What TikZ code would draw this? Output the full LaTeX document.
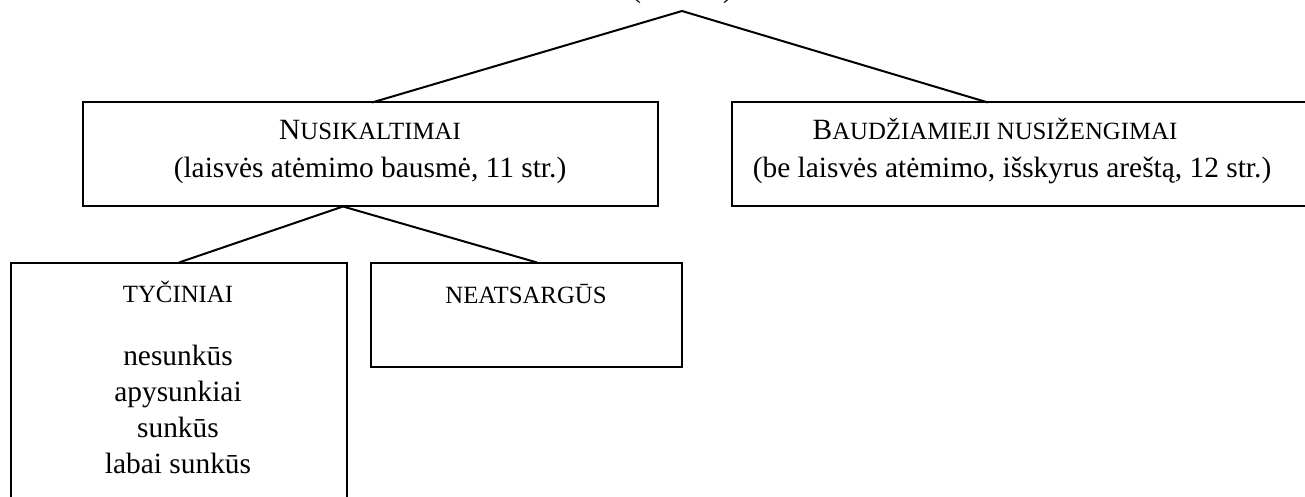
\documentclass[tikz,border=0pt]{standalone}
\usepackage{fontspec}
\setmainfont{Liberation Serif}
\newcommand\smc[1]{{\fontsize{12.4}{15}\selectfont #1}}
\begin{document}
\begin{tikzpicture}[x=0.5pt,y=-0.5pt,
  box/.style={draw, line width=1pt, inner sep=0pt, outer sep=0pt, rectangle},
  txt/.style={inner sep=0pt, anchor=base, font=\fontsize{14.7}{18}\selectfont},
  conn/.style={line width=1pt}]
\useasboundingbox (0,0) rectangle (1305,497);
\clip (0,0) rectangle (1305,497);
% boxes
\node[box, minimum width=287.5pt, minimum height=52pt] (nus) at (370.5,154.5) {};
\node[box, minimum width=309.25pt, minimum height=52pt] (baud) at (1040.75,154.5) {};
\node[box, minimum width=168pt, minimum height=128.75pt] (tyc) at (179,391.25) {};
\node[box, minimum width=155.5pt, minimum height=52.25pt] (neat) at (526.5,314.75) {};
% top (cut off) parentheses
\node[txt, anchor=base west] (lp) at (631,-2.5) {(};
\node[txt, anchor=base east] (rp) at (733,-2.5) {)};
% texts
\node[txt] (nusA) at (370,140) {N\smc{USIKALTIMAI}};
\node[txt] (nusB) at (370,178) {(laisvės atėmimo bausmė, 11 str.)};
\node[txt] (baudA) at (995,140) {B\smc{AUDŽIAMIEJI NUSIŽENGIMAI}};
\node[txt] (baudB) at (1012,178) {(be laisvės atėmimo, išskyrus areštą, 12 str.)};
\node[txt] (tycA) at (178,302) {\smc{TYČINIAI}};
\node[txt] (tycB) at (178,365) {nesunkūs};
\node[txt] (tycC) at (178,401) {apysunkiai};
\node[txt] (tycD) at (178,437) {sunkūs};
\node[txt] (tycE) at (178,473) {labai sunkūs};
\node[txt] (neatA) at (526,303) {\smc{NEATSARGŪS}};
% connectors
\coordinate (apex) at (682,11);
\coordinate (apex2) at (343,206.5);
\draw[conn] ([xshift=0.75pt]nus.north) -- (apex) -- ([xshift=-26.4pt]baud.north);
\draw[conn] (tyc.north) -- (apex2) -- ([xshift=5.25pt]neat.north);
\end{tikzpicture}
\end{document}
